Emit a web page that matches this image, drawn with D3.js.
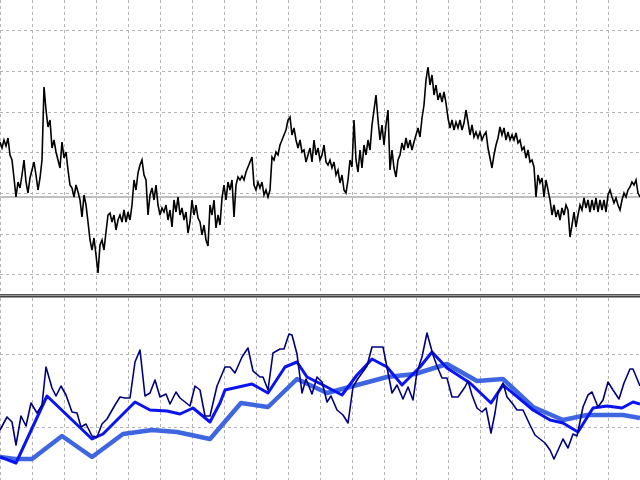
<!DOCTYPE html>
<html>
<head>
<meta charset="utf-8">
<script src="https://cdn.jsdelivr.net/npm/d3@7"></script>
<style>
html,body{margin:0;padding:0;background:#fff;}
svg{display:block;}
</style>
</head>
<body>
<svg id="chart" width="640" height="480"></svg>
<script>
// ---- DATA ----
// price (close) series, one value per bar (bar index 0..320)
const priceValues = [
158,152,160,154,162,145,140,122,103,118,112,125,140,118,107,122,130,138,125,110,
122,140,213,190,173,180,152,160,148,140,132,158,142,148,130,115,112,103,115,108,
100,83,105,95,78,60,50,62,45,27,55,60,50,68,85,87,78,85,70,80,
85,78,90,78,88,80,95,120,110,127,135,140,125,120,85,105,112,100,115,95,
85,92,88,95,80,90,73,100,88,103,85,92,80,88,67,78,100,85,95,82,
78,65,75,60,54,95,85,100,72,85,75,102,115,100,118,110,120,83,115,123,
120,124,120,128,133,138,143,115,110,118,112,118,105,110,103,110,143,140,148,145,
155,160,165,170,180,183,165,172,160,152,160,148,150,138,145,152,138,160,145,152,
140,145,155,138,135,140,132,138,125,130,117,125,110,107,120,140,133,180,140,128,
150,132,155,145,160,150,175,190,205,180,160,175,155,175,190,130,150,132,123,140,
145,157,150,162,152,160,150,158,165,172,163,182,195,220,233,215,225,205,215,200,
207,198,208,197,182,172,180,170,178,172,180,170,177,190,178,165,175,163,168,162,
168,160,165,168,152,142,132,145,155,162,173,165,172,160,168,160,165,160,167,157,
160,150,153,142,150,138,140,133,103,125,117,122,103,120,110,100,85,95,83,90,
80,92,85,95,90,63,75,88,73,85,95,90,102,92,100,88,100,90,102,88,
100,90,100,88,105,110,103,97,102,95,90,100,107,103,110,113,118,115,120,107,
103
];
// horizontal grid levels (price panel) and the horizontal level line
const priceGrid = [25.7, 66.4, 107.1, 147.8, 188.5, 229.2, 269.9];
const priceLevel = 103.3;
// vertical grid positions (bar index)
const barGrid = [0,16,32,48,64,80,96,112,128,144,160,176,192,208,224,240,256,272,288,304,320];

// indicator panel: [bar, value]
const slowLine = [
[0,-30],[7.5,-32],[16,-32],[31,-9],[46,-30],[61.5,-7],[76,-3],[88.5,-5],[105,-12],[120.5,24],
[134,20],[148.5,48],[163.5,34],[178.5,42],[193.5,50],[207.5,53],[223.5,63],[238.5,46],[251.5,48],
[266.5,20],[281.5,7],[293.5,12],[311.5,12],[320,9]
];
const midLine = [
[0,-30],[8,-36],[23.5,31],[46,-12],[51.5,-7],[67.5,25],[75,17],[83.5,16],[90,13],[96.5,19],
[105,5],[110,24],[112.5,37],[126,43],[134,34],[142.5,60],[148.5,65],[153.5,50],[161.5,42],[171,32],
[178.5,52],[186,68],[193.5,60],[201,42],[210,60],[216,75],[223.5,59],[235,44],[245.5,24],[251.5,42],
[266.5,17],[275,7],[281.5,4],[289,-5],[296.5,19],[303.5,21],[311,19],[316.5,25],[320,23]
];
const fastLine = [
[0,-3],[3.5,10],[6,5],[8,-18],[10.5,11],[13,1],[15.5,24],[18.5,14],[21,22],[23,60],
[26,39],[28,31],[30.5,41],[33,32],[36,15],[38.5,14],[40.5,0],[43,3],[46,-9],[48.5,-10],
[51,3],[53.5,8],[57.5,22],[60,30],[62.5,29],[65,29],[67.5,65],[70,77],[72.5,31],[75,34],
[77.5,47],[80,30],[83,33],[85,23],[88,35],[90,29],[95,21],[97.5,41],[100,37],[102.5,11],
[105,11],[108.5,41],[110,48],[112.5,60],[115,60],[117.5,54],[121,70],[124,79],[126.5,56],[130,50],
[131.5,50],[134,37],[136.5,74],[140,78],[142,78],[144.5,93],[146,92],[148.5,73],[151,34],[153,48],
[156,33],[158.5,50],[161,45],[163.5,25],[165.5,31],[168.5,17],[171.5,12],[174,4],[176.5,40],[178.5,47],
[183.5,61],[186,80],[191.5,80],[196,34],[198.5,42],[201.5,28],[204,40],[206.5,27],[208.5,55],[211,70],
[213.5,94],[216.5,72],[218.5,61],[221,49],[223.5,49],[226,30],[229,30],[232.5,40],[234,46],[236,32],
[238.5,19],[241,15],[243,19],[245.5,-6],[247.5,14],[249,34],[251.5,44],[253.5,30],[256,24],[258.5,17],
[261.5,17],[265,2],[267.5,-8],[272.5,-16],[275,-23],[277,-32],[279.5,-21],[281.5,-12],[284,-21],[286.5,-7],
[288.5,-9],[291.5,20],[294,32],[296,35],[299,20],[301.5,27],[304,45],[306.5,37],[309.5,28],[312,44],
[315,58],[316.5,58],[320,41]
];
const indGrid = [-72.7, 0, 72.7, 145.4];

// ---- CHART ----
const W = 640, H = 480;
const topH = 294, sepY = 294, botTop = 298;
const svg = d3.select("#chart");

const x = d3.scaleLinear().domain([0, 320]).range([0, W]);
const yP = d3.scaleLinear().domain([0, 300]).range([300, 0]);
const yI = d3.scaleLinear().domain([0, 100]).range([427, 327]);

const defs = svg.append("defs");
defs.append("clipPath").attr("id","cTop").append("rect").attr("x",0).attr("y",0).attr("width",W).attr("height",topH);
defs.append("clipPath").attr("id","cBot").append("rect").attr("x",0).attr("y",botTop).attr("width",W).attr("height",H-botTop);

const gridCol = "#b4b4b4";
const dash = "3,3";

// top panel
const gTop = svg.append("g").attr("clip-path","url(#cTop)");
gTop.append("g").selectAll("line").data(barGrid).join("line")
  .attr("x1",d=>Math.round(x(d))+0.5).attr("x2",d=>Math.round(x(d))+0.5)
  .attr("y1",0).attr("y2",topH)
  .attr("stroke",gridCol).attr("stroke-dasharray",dash).attr("shape-rendering","crispEdges");
gTop.append("g").selectAll("line").data(priceGrid).join("line")
  .attr("x1",0).attr("x2",W)
  .attr("y1",d=>Math.round(yP(d))+0.5).attr("y2",d=>Math.round(yP(d))+0.5)
  .attr("stroke",gridCol).attr("stroke-dasharray",dash).attr("shape-rendering","crispEdges");
gTop.append("line").attr("x1",0).attr("x2",W)
  .attr("y1",yP(priceLevel)).attr("y2",yP(priceLevel))
  .attr("stroke","#c0c0c0").attr("stroke-width",2).attr("shape-rendering","crispEdges");
gTop.append("path").datum(priceValues)
  .attr("fill","none").attr("stroke","#000").attr("stroke-width",1.6)
  .attr("stroke-linejoin","miter")
  .attr("d", d3.line().x((d,i)=>x(i)).y(d=>yP(d)));

// separator
svg.append("rect").attr("x",0).attr("y",sepY).attr("width",W).attr("height",4).attr("fill","#9a9a9a");
svg.append("line").attr("x1",0).attr("x2",W).attr("y1",sepY+0.5).attr("y2",sepY+0.5).attr("stroke","#555").attr("shape-rendering","crispEdges");
svg.append("line").attr("x1",0).attr("x2",W).attr("y1",sepY+2.5).attr("y2",sepY+2.5).attr("stroke","#444").attr("shape-rendering","crispEdges");

// bottom panel
const gBot = svg.append("g").attr("clip-path","url(#cBot)");
gBot.append("g").selectAll("line").data(barGrid).join("line")
  .attr("x1",d=>Math.round(x(d))+0.5).attr("x2",d=>Math.round(x(d))+0.5)
  .attr("y1",botTop).attr("y2",H)
  .attr("stroke",gridCol).attr("stroke-dasharray",dash).attr("shape-rendering","crispEdges");
gBot.append("g").selectAll("line").data(indGrid).join("line")
  .attr("x1",0).attr("x2",W)
  .attr("y1",d=>Math.round(yI(d))+0.5).attr("y2",d=>Math.round(yI(d))+0.5)
  .attr("stroke",gridCol).attr("stroke-dasharray",dash).attr("shape-rendering","crispEdges");

const lineXY = d3.line().x(d=>x(d[0])).y(d=>yI(d[1]));
gBot.append("path").datum(slowLine).attr("fill","none").attr("stroke","#3e66e0").attr("stroke-width",4.5).attr("stroke-linejoin","round").attr("d",lineXY);
gBot.append("path").datum(midLine).attr("fill","none").attr("stroke","#0a14f0").attr("stroke-width",3).attr("stroke-linejoin","round").attr("d",lineXY);
gBot.append("path").datum(fastLine).attr("fill","none").attr("stroke","#00007f").attr("stroke-width",1.6).attr("stroke-linejoin","round").attr("d",lineXY);
</script>
</body>
</html>
